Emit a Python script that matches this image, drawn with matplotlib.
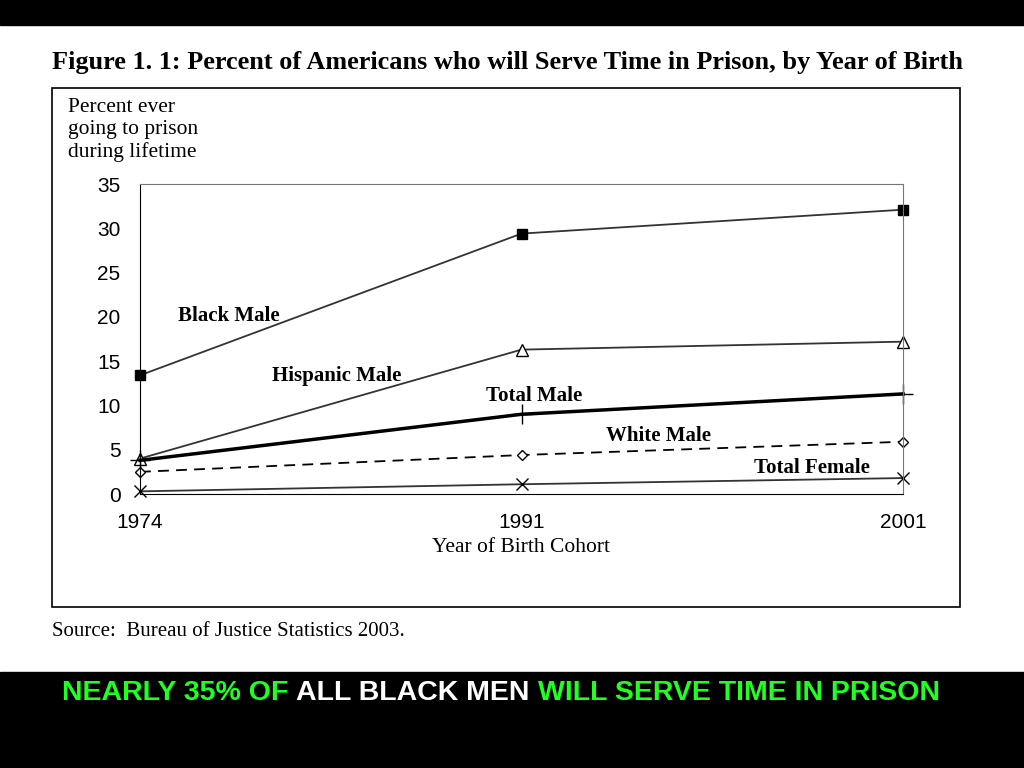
import matplotlib
matplotlib.use("Agg")
import matplotlib.pyplot as plt
from matplotlib.patches import Rectangle

years = ["1974", "1991", "2001"]
black_male = [13.4, 29.4, 32.1]
hispanic_male = [4.0, 16.3, 17.2]
total_male = [3.8, 9.0, 11.3]
white_male = [2.5, 4.4, 5.9]
total_female = [0.3, 1.1, 1.8]

W, H = 1024, 768
fig = plt.figure(figsize=(W/100, H/100), dpi=100)
fig.patch.set_facecolor("white")
fig.add_artist(Rectangle((0, 1-25/H), 1, 25/H, transform=fig.transFigure, color="black", zorder=0))
fig.add_artist(Rectangle((0, 0), 1, 96/H, transform=fig.transFigure, color="black", zorder=0))
fig.add_artist(Rectangle((52/W, 1-607/H), 908/W, 519/H, transform=fig.transFigure,
                         fill=False, ec="black", lw=1.2))
serif = "Liberation Serif"
fig.text(52/W, 1-62/H, "Figure 1. 1: Percent of Americans who will Serve Time in Prison, by Year of Birth",
         family=serif, weight="bold", fontsize=15.4*1.23, va="center")
fig.text(68/W, 1-98/H, "Percent ever\ngoing to prison\nduring lifetime", family=serif, fontsize=15.5,
         va="top", linespacing=1.2)
fig.text(52/W, 1-632/H, "Source:  Bureau of Justice Statistics 2003.", family=serif, fontsize=15, va="center")
y = 1-693/H
x = 62/W
r = fig.canvas.get_renderer()
parts = [("NEARLY 35% OF ", "#22ff22"), ("ALL BLACK MEN ", "white"), ("WILL SERVE TIME IN PRISON", "#22ff22")]
for s, c in parts:
    t = fig.text(x, y, s, color=c, fontsize=20.5, weight="bold", family="Liberation Sans", va="center")
    bb = t.get_window_extent(renderer=r)
    x += bb.width / W

ax = fig.add_axes([140/W, 1-494/H, 763/W, 310/H])
xs = range(len(years))
kw = dict(color="#333333", clip_on=False)
ax.plot(xs, black_male, marker="s", ms=7, mfc="black", mec="black", lw=1.3, **kw)
ax.plot(xs, hispanic_male, marker="^", ms=8, mfc="white", mec="black", lw=1.3, **kw)
ax.plot(xs, total_male, marker="+", ms=14, mec="black", lw=2.5, color="black", clip_on=False)
ax.plot(xs, white_male, marker="D", ms=5, mfc="white", mec="black", lw=1.3, ls=(0, (6, 4)), color="black", clip_on=False)
ax.plot(xs, total_female, marker="x", ms=8, mec="black", lw=1.3, **kw)
ax.set_xlim(0, 2)
ax.set_ylim(0, 35)
ax.set_yticks(range(0, 36, 5))
ax.set_xticks(list(xs))
ax.set_xticklabels(years)
ax.tick_params(labelsize=15, length=0)
ax.tick_params(axis="x", pad=14)
ax.tick_params(axis="y", pad=14)
for lbl in ax.get_xticklabels() + ax.get_yticklabels():
    lbl.set_family("Liberation Sans")
for s in ax.spines.values():
    s.set_color("#777777")
ax.spines["left"].set_color("black")
ax.spines["bottom"].set_color("black")
ax.set_xlabel("Year of Birth Cohort", family=serif, fontsize=15.5, labelpad=4)
lab = dict(family=serif, weight="bold", fontsize=15, ha="center", va="center")
ax.text(0.233, 20.1, "Black Male", **lab)
ax.text(0.516, 13.3, "Hispanic Male", **lab)
ax.text(1.033, 11.1, "Total Male", **lab)
ax.text(1.358, 6.5, "White Male", **lab)
ax.text(1.761, 2.9, "Total Female", **lab)
fig.savefig("out.png", dpi=100)
